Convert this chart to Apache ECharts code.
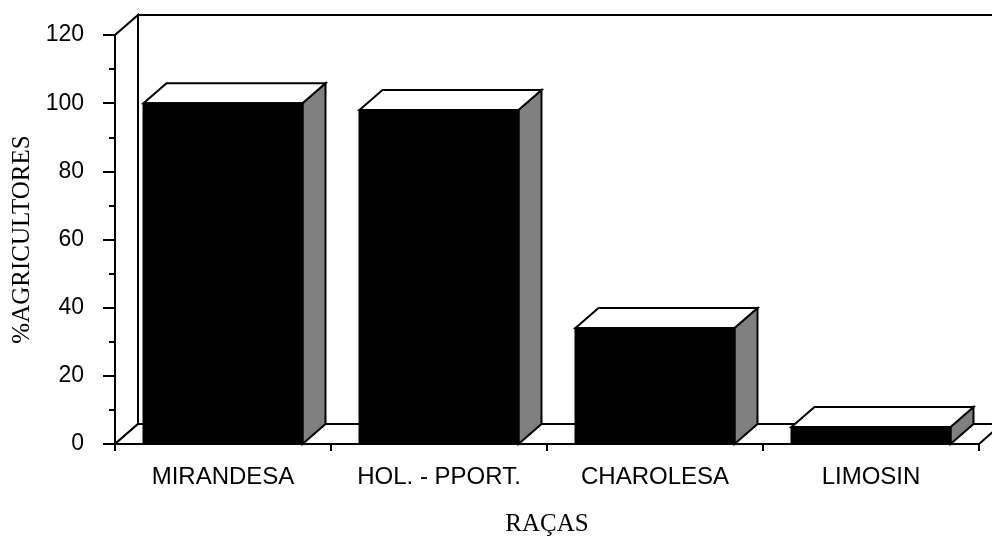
<!DOCTYPE html>
<html>
<head>
<meta charset="utf-8">
<script src="https://cdn.jsdelivr.net/npm/echarts@6/dist/echarts.min.js"></script>
<style>
html,body{margin:0;padding:0;background:#fff;}
#chart{width:992px;height:542px;}
</style>
</head>
<body>
<div id="chart"></div>
<script>
const categories = ['MIRANDESA', 'HOL. - PPORT.', 'CHAROLESA', 'LIMOSIN'];
const values = [100, 98, 34, 5];
const yMin = 0, yMax = 120, yStep = 20;
const xTitle = 'RAÇAS';
const yTitle = '%AGRICULTORES';

const DX = 23, DY = 20, BAR_FRAC = 0.736;

const chart = echarts.init(document.getElementById('chart'), null, {renderer: 'canvas'});

function wallsItem(params, api) {
  const cs = params.coordSys;
  const x0 = cs.x, y0 = cs.y, x1 = cs.x + cs.width, y1 = cs.y + cs.height;
  const st = {fill: '#fff', stroke: '#000', lineWidth: 2, lineJoin: 'miter'};
  return {
    type: 'group',
    children: [
      {type: 'polygon', shape: {points: [[x0 + DX, y0 - DY], [x1 + DX, y0 - DY], [x1 + DX, y1 - DY], [x0 + DX, y1 - DY]]}, style: st},
      {type: 'polygon', shape: {points: [[x0, y1], [x0, y0], [x0 + DX, y0 - DY], [x0 + DX, y1 - DY]]}, style: st},
      {type: 'polygon', shape: {points: [[x0, y1], [x1, y1], [x1 + DX, y1 - DY], [x0 + DX, y1 - DY]]}, style: st}
    ]
  };
}

function barItem(params, api) {
  const i = api.value(0), v = api.value(1);
  const base = api.coord([i, 0]);
  const top = api.coord([i, v]);
  const bw = api.size([1, 0])[0] * BAR_FRAC;
  const xl = base[0] - bw / 2, xr = base[0] + bw / 2;
  const yt = top[1], yb = base[1];
  const st = {stroke: '#000', lineWidth: 2, lineJoin: 'miter'};
  return {
    type: 'group',
    children: [
      {type: 'polygon', shape: {points: [[xr, yt], [xr + DX, yt - DY], [xr + DX, yb - DY], [xr, yb]]}, style: Object.assign({fill: '#808080'}, st)},
      {type: 'polygon', shape: {points: [[xl, yt], [xl + DX, yt - DY], [xr + DX, yt - DY], [xr, yt]]}, style: Object.assign({fill: '#fff'}, st)},
      {type: 'rect', shape: {x: xl, y: yt, width: bw, height: yb - yt}, style: Object.assign({fill: '#000'}, st)}
    ]
  };
}

chart.setOption({
  animation: false,
  backgroundColor: '#fff',
  grid: {left: 115, right: 13, top: 35, bottom: 93, containLabel: false},
  xAxis: {
    type: 'category',
    data: categories,
    boundaryGap: true,
    name: xTitle,
    nameLocation: 'middle',
    nameGap: 68,
    nameTextStyle: {fontFamily: '"Liberation Serif", "Times New Roman", serif', fontSize: 25, color: '#000'},
    axisLine: {show: true, lineStyle: {color: '#000', width: 2}},
    axisTick: {show: true, length: 7, lineStyle: {color: '#000', width: 2}},
    axisLabel: {fontFamily: '"Liberation Sans", Arial, sans-serif', fontSize: 24, color: '#000', margin: 21, interval: 0},
    splitLine: {show: false}
  },
  yAxis: {
    type: 'value',
    min: yMin, max: yMax, interval: yStep,
    name: yTitle,
    nameLocation: 'middle',
    nameRotate: 90,
    nameGap: 80,
    nameTextStyle: {fontFamily: '"Liberation Serif", "Times New Roman", serif', fontSize: 25, color: '#000'},
    axisLine: {show: true, lineStyle: {color: '#000', width: 2}},
    axisTick: {show: true, length: 12, lineStyle: {color: '#000', width: 2}},
    minorTick: {show: true, splitNumber: 2, length: 6, lineStyle: {color: '#000', width: 2}},
    axisLabel: {fontFamily: '"Liberation Sans", Arial, sans-serif', fontSize: 23, color: '#000', margin: 31},
    splitLine: {show: false},
    minorSplitLine: {show: false}
  },
  series: [
    {type: 'custom', z: 1, clip: false, silent: true, renderItem: wallsItem, data: [[0, 0]]},
    {type: 'custom', z: 3, clip: false, renderItem: barItem, data: values.map((v, i) => [i, v])}
  ]
});
</script>
</body>
</html>
